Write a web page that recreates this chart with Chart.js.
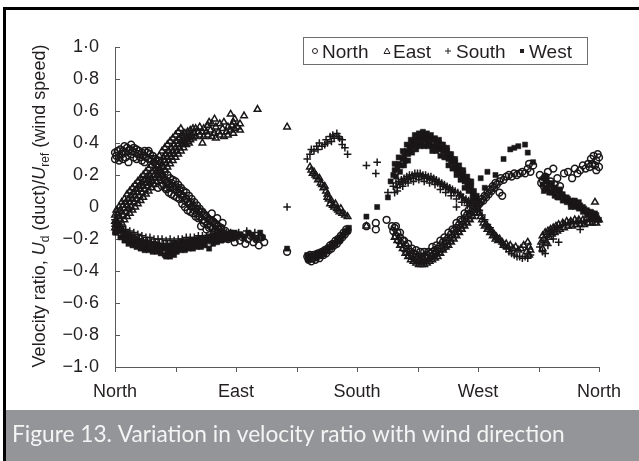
<!DOCTYPE html>
<html lang="en">
<head>
<meta charset="UTF-8">
<title>Figure 13</title>
<script src="https://cdn.jsdelivr.net/npm/chart.js"></script>
<style>
  html, body { margin: 0; padding: 0; background: #fff; }
  #wrap { width: 639px; height: 461px; }
</style>
</head>
<body>
<div id="wrap"><canvas id="myChart" width="639" height="461"></canvas></div>
<script>
// x = wind direction in degrees (0 = North ... 360 = North again), y = velocity ratio
const directions = ['North', 'East', 'South', 'West', 'North'];
const seriesNames = ['North', 'East', 'South', 'West'];

const northPts = [
  [0,0.30],[0,0.34],[1,0.32],[2,0.35],[3,0.31],[3,0.29],[4,0.36],[5,0.33],[6,0.35],[6,0.30],[7,0.38],[8,0.34],[8,0.31],[9,0.37],
  [10,0.35],[10,0.28],[11,0.36],[12,0.39],[12,0.33],[13,0.35],[14,0.37],[14,0.31],[15,0.34],[16,0.36],[16,0.30],[17,0.33],[18,0.35],
  [19,0.31],[20,0.34],[20,0.29],[21,0.32],[21,0.17],[22,0.35],[22,0.28],[23,0.31],[24,0.34],[25,0.30],[25,0.35],[26,0.33],[27,0.30],
  [28,0.32],[29,0.28],[30,0.30],[31,0.26],[32,0.25],[32,0.12],[33,0.23],[34,0.21],[35,0.20],[35,0.13],[36,0.18],[37,0.17],[38,0.15],
  [38,0.12],[39,0.16],[40,0.14],[41,0.12],[42,0.15],[43,0.13],[44,0.11],[45,0.13],[46,0.11],[47,0.09],[48,0.11],[49,0.08],[50,0.06],
  [51,0.07],[52,0.04],[53,0.05],[54,0.03],[55,0.02],[56,0.03],[57,0.00],[58,0.01],[59,-0.02],[60,-0.01],[61,-0.04],[62,-0.02],
  [63,-0.06],[64,-0.03],[64,-0.12],[65,-0.08],[66,-0.05],[67,-0.09],[68,-0.06],[68,-0.14],[69,-0.11],[70,-0.08],[71,-0.12],[72,-0.09],
  [72,-0.04],[73,-0.13],[74,-0.10],[75,-0.15],[76,-0.12],[76,-0.07],[77,-0.14],[78,-0.17],[79,-0.13],[80,-0.16],[80,-0.10],[81,-0.19],
  [82,-0.15],[83,-0.18],[84,-0.20],[86,-0.17],[88,-0.19],[89,-0.22],[91,-0.18],[93,-0.21],[95,-0.19],[97,-0.23],[99,-0.20],[101,-0.18],
  [103,-0.22],[105,-0.20],[107,-0.24],[109,-0.19],[111,-0.22],
  [33,0.29],[35,0.25],[37,0.22],[39,0.20],[41,0.18],[43,0.17],[45,0.16],[47,0.14],[49,0.12],[51,0.10],[53,0.09],[55,0.07],[57,0.05],
  [59,0.03],[61,0.01],[63,-0.01],[65,-0.03],[67,-0.05],[69,-0.07],[71,-0.08],[73,-0.09],[75,-0.11],[77,-0.12],[79,-0.14],
  [34,0.17],[36,0.14],[38,0.11],[40,0.09],[42,0.08],[44,0.07],[46,0.06],[48,0.05],[50,0.02],[52,0.00],[54,-0.02],[56,-0.03],[58,-0.04],
  [60,-0.06],[62,-0.07],[66,-0.10],[70,-0.13],[74,-0.16],[76,-0.17],[78,-0.19],[80,-0.20],
  [128,-0.28],
  [143,-0.31],[144,-0.33],[145,-0.30],[146,-0.34],[147,-0.32],[148,-0.30],[149,-0.33],[150,-0.31],[151,-0.29],[152,-0.32],[153,-0.30],
  [154,-0.28],[155,-0.30],[156,-0.27],[157,-0.29],[158,-0.26],[159,-0.27],[160,-0.24],[161,-0.26],[162,-0.23],[163,-0.24],[164,-0.21],
  [165,-0.23],[166,-0.20],[167,-0.21],[168,-0.18],[169,-0.19],[170,-0.16],[171,-0.17],[172,-0.14],[173,-0.15],
  [187,-0.12],[194,-0.10],[194,-0.14],[202,-0.08],
  [206,-0.12],[207,-0.15],[208,-0.13],[209,-0.18],[210,-0.16],[211,-0.21],[212,-0.19],[213,-0.23],[214,-0.21],[215,-0.26],[216,-0.24],
  [217,-0.28],[218,-0.26],[219,-0.30],[220,-0.28],[221,-0.31],[222,-0.29],[223,-0.32],[224,-0.30],[225,-0.33],[226,-0.31],[227,-0.33],
  [228,-0.31],[229,-0.33],[230,-0.31],[231,-0.32],[232,-0.30],[233,-0.32],[234,-0.29],[235,-0.31],[236,-0.28],[237,-0.30],[238,-0.27],
  [239,-0.29],[240,-0.26],[241,-0.28],[242,-0.24],[243,-0.26],[244,-0.22],[245,-0.25],[246,-0.21],[247,-0.23],[248,-0.19],[249,-0.21],
  [250,-0.17],[251,-0.19],[252,-0.15],[253,-0.17],[254,-0.13],[255,-0.15],[256,-0.11],[257,-0.13],[258,-0.09],[259,-0.11],[260,-0.07],
  [261,-0.09],[262,-0.05],[263,-0.07],[264,-0.04],[265,-0.05],[266,-0.02],[267,-0.03],[268,0.00],[269,-0.01],[270,0.01],[271,0.02],
  [209,-0.12],[212,-0.16],[215,-0.21],[218,-0.23],[221,-0.26],[224,-0.27],[227,-0.28],[230,-0.28],[233,-0.28],[236,-0.25],[239,-0.24],
  [242,-0.21],[245,-0.19],[248,-0.16],[251,-0.14],[254,-0.10],[257,-0.08],[260,-0.04],[263,-0.02],[266,0.01],
  [272,0.03],[273,0.05],[274,0.04],[275,0.07],[276,0.06],[277,0.09],[278,0.08],[279,0.11],[280,0.10],[281,0.13],[282,0.12],[283,0.15],
  [284,0.14],[286,0.16],[286,0.09],[287,0.18],[288,0.07],[289,0.17],[291,0.19],[293,0.20],[295,0.19],[297,0.21],[299,0.20],[301,0.21],
  [303,0.22],[305,0.21],[307,0.24],[308,0.27],[309,0.22],[311,0.26],
  [316,0.20],[317,0.15],[318,0.17],[319,0.13],[320,0.19],[321,0.15],[322,0.22],[323,0.12],[324,0.16],[326,0.24],[327,0.14],[329,0.18],
  [331,0.13],[334,0.21],[337,0.22],[340,0.18],[342,0.24],[344,0.21],[346,0.23],[348,0.26],[350,0.24],[352,0.27],[353,0.25],[354,0.30],
  [355,0.27],[356,0.32],[357,0.26],[358,0.29],[358,0.23],[359,0.33],[360,0.31],[360,0.25]
];

const eastPts = [
  [0,-0.09],[0,-0.13],[0,-0.05],[1,-0.08],[2,-0.10],[2,-0.04],[3,-0.06],[4,-0.08],[4,-0.02],[5,-0.03],[6,-0.05],[6,0.01],[7,-0.01],
  [8,-0.03],[8,0.03],[9,0.01],[10,-0.01],[10,0.05],[11,0.03],[12,0.00],[12,0.07],[13,0.05],[14,0.03],[14,0.09],[15,0.07],[16,0.05],
  [16,0.11],[17,0.09],[18,0.07],[18,0.13],[19,0.11],[20,0.09],[20,0.15],[21,0.13],[22,0.11],[22,0.17],[23,0.15],[24,0.13],[24,0.19],
  [25,0.17],[26,0.15],[26,0.20],[27,0.18],[28,0.16],[28,0.22],[29,0.20],[30,0.18],[30,0.24],[31,0.22],[32,0.20],[32,0.26],[33,0.24],
  [34,0.22],[34,0.28],[35,0.27],[36,0.25],[36,0.31],[37,0.29],[38,0.27],[38,0.33],[39,0.31],[40,0.29],[40,0.35],[41,0.33],[42,0.31],
  [42,0.37],[43,0.35],[44,0.33],[44,0.39],[45,0.37],[46,0.35],[46,0.41],[47,0.39],[48,0.37],[48,0.43],[49,0.41],[50,0.39],[50,0.45],
  [51,0.42],[52,0.40],[52,0.46],[53,0.43],[54,0.41],[54,0.47],[55,0.44],[56,0.42],[56,0.48],[57,0.45],[58,0.43],[58,0.49],[59,0.46],
  [60,0.44],[60,0.49],[62,0.47],[63,0.45],[63,0.50],[65,0.47],[65,0.40],[66,0.44],[66,0.49],[68,0.47],[69,0.45],[69,0.51],[70,0.53],
  [71,0.48],[72,0.44],[72,0.52],[74,0.46],[74,0.55],[75,0.43],[75,0.50],[77,0.47],[78,0.45],[78,0.52],[80,0.49],[81,0.44],[81,0.53],
  [83,0.47],[84,0.50],[84,0.45],[86,0.48],[86,0.58],[87,0.51],[88,0.46],[88,0.53],[89,0.49],[89,0.55],[91,0.50],[93,0.52],[93,0.48],
  [96,0.57],[106,0.61],
  [1,-0.02],[3,0.00],[5,0.03],[7,0.05],[9,0.08],[11,0.10],[13,0.12],[15,0.14],[17,0.16],[19,0.18],[21,0.20],[23,0.22],[25,0.24],
  [27,0.26],[29,0.28],[31,0.30],[33,0.32],[35,0.35],[37,0.37],[39,0.39],[41,0.41],[43,0.43],[45,0.45],[47,0.47],[49,0.49],
  [1,-0.15],[3,-0.13],[5,-0.10],[7,-0.08],[9,-0.06],[11,-0.04],[13,-0.02],[15,0.00],[17,0.02],[19,0.04],[21,0.06],[23,0.08],[25,0.10],
  [27,0.12],[29,0.14],[31,0.16],[33,0.18],[35,0.20],[37,0.23],[39,0.25],[41,0.27],[43,0.29],[45,0.31],[47,0.33],[49,0.35],[51,0.37],
  [53,0.39],[55,0.40],
  [128,0.50],
  [145,0.25],[146,0.23],[147,0.21],[148,0.22],[149,0.20],[150,0.19],[151,0.17],[152,0.18],[153,0.15],[154,0.14],[155,0.12],[156,0.13],
  [157,0.10],[158,0.08],[158,0.06],[159,0.05],[160,0.02],[161,0.04],[162,0.01],[163,0.00],[164,0.02],[165,-0.01],[166,-0.02],
  [167,-0.03],[168,-0.01],[169,-0.04],[171,-0.05],[173,-0.06],
  [187,-0.12],
  [208,-0.19],[210,-0.21],[212,-0.24],[214,-0.26],[216,-0.29],[218,-0.31],[220,-0.33],[222,-0.34],[224,-0.35],[226,-0.36],[228,-0.36],
  [230,-0.36],[232,-0.35],[234,-0.34],[236,-0.33],[238,-0.32],[240,-0.31],[242,-0.29],[244,-0.27],[246,-0.25],[248,-0.24],[250,-0.22],
  [252,-0.20],[254,-0.18],[256,-0.16],[258,-0.14],[260,-0.12],[262,-0.10],[264,-0.08],[266,-0.06],[268,-0.04],
  [270,-0.01],[271,-0.04],[272,-0.06],[273,-0.08],[274,-0.10],[275,-0.12],[276,-0.11],[277,-0.14],[278,-0.13],[279,-0.16],[280,-0.15],
  [281,-0.18],[282,-0.17],[283,-0.20],[284,-0.19],[285,-0.21],[286,-0.20],[288,-0.22],[289,-0.24],[291,-0.23],[292,-0.25],[294,-0.24],
  [296,-0.26],[298,-0.25],[300,-0.27],[302,-0.26],[304,-0.24],[306,-0.28],[307,-0.22],[308,-0.25],[308,-0.30],[309,-0.27],
  [317,-0.22],[318,-0.18],[318,-0.26],[319,-0.20],[320,-0.16],[321,-0.22],[322,-0.15],[323,-0.19],[324,-0.14],[325,-0.17],[326,-0.13],
  [327,-0.16],[328,-0.12],[329,-0.15],[330,-0.11],[331,-0.14],[333,-0.10],[334,-0.13],[336,-0.09],[337,-0.12],[339,-0.09],[340,-0.12],
  [342,-0.08],[343,-0.11],[345,-0.08],[346,-0.11],[348,-0.08],[349,-0.11],[351,-0.07],[352,-0.10],[354,-0.07],[355,-0.10],[357,-0.07],
  [357,0.03],[358,-0.10],[360,-0.08]
];

const southPts = [
  [0,-0.08],[0,-0.12],[2,-0.10],[3,-0.14],[5,-0.12],[6,-0.15],[8,-0.14],[9,-0.17],[11,-0.15],[12,-0.18],[14,-0.16],[15,-0.19],
  [17,-0.17],[18,-0.20],[20,-0.18],[21,-0.21],[23,-0.19],[24,-0.21],[26,-0.19],[27,-0.22],[29,-0.20],[30,-0.22],[32,-0.20],[33,-0.23],
  [35,-0.20],[36,-0.23],[38,-0.21],[39,-0.23],[41,-0.20],[42,-0.23],[44,-0.21],[45,-0.23],[47,-0.20],[48,-0.23],[50,-0.20],[51,-0.22],
  [53,-0.19],[54,-0.22],[56,-0.19],[57,-0.22],[59,-0.19],[60,-0.21],[62,-0.18],[63,-0.21],[65,-0.18],[66,-0.20],[68,-0.18],[69,-0.20],
  [71,-0.17],[72,-0.20],[74,-0.17],[75,-0.19],[77,-0.16],[78,-0.19],[80,-0.17],[81,-0.19],[83,-0.16],[84,-0.18],[86,-0.16],[87,-0.19],
  [89,-0.17],[92,-0.16],[95,-0.18],[98,-0.15],[101,-0.17],[104,-0.16],[107,-0.18],
  [1,-0.10],[4,-0.13],[7,-0.16],[10,-0.17],[13,-0.19],[16,-0.20],[19,-0.22],[22,-0.23],[25,-0.24],[28,-0.245],[31,-0.25],[34,-0.25],
  [37,-0.25],[40,-0.25],[43,-0.25],[46,-0.245],[49,-0.24],[52,-0.24],[55,-0.235],[58,-0.23],[61,-0.225],[64,-0.22],[67,-0.215],
  [70,-0.21],[73,-0.21],[76,-0.20],[79,-0.20],[82,-0.19],[85,-0.19],[88,-0.19],
  [128,0.00],
  [143,0.30],[145,0.33],[146,0.36],[148,0.35],[150,0.38],[151,0.36],[152,0.40],[154,0.38],[156,0.39],[157,0.42],[158,0.40],[160,0.44],
  [161,0.41],[162,0.45],[163,0.43],[165,0.46],[166,0.44],[167,0.43],[169,0.42],[169,0.39],[171,0.37],[173,0.33],
  [187,0.26],[194,0.21],[195,0.28],[203,0.09],[208,0.09],
  [207,0.13],[209,0.15],[210,0.12],[211,0.16],[212,0.14],[213,0.17],[214,0.15],[215,0.18],[216,0.16],[217,0.19],[218,0.17],[219,0.20],
  [220,0.18],[221,0.20],[222,0.18],[223,0.21],[224,0.19],[225,0.21],[226,0.19],[227,0.21],[228,0.19],[229,0.20],[230,0.18],[231,0.20],
  [232,0.18],[233,0.19],[234,0.17],[235,0.19],[236,0.17],[237,0.18],[238,0.16],[239,0.17],[240,0.15],[241,0.16],[242,0.14],[243,0.15],
  [244,0.13],[245,0.14],[246,0.12],[247,0.13],[248,0.11],[249,0.12],[250,0.10],[251,0.11],[252,0.09],[253,0.10],[254,0.00],[255,0.09],
  [256,0.07],[257,0.08],[258,0.06],[259,0.06],[260,0.04],[261,0.05],[262,0.03],[263,0.04],[264,0.02],[265,0.03],[267,0.01],[269,0.00],
  [210,0.10],[214,0.13],[218,0.15],[222,0.16],[226,0.17],[230,0.16],[234,0.15],[238,0.14],[242,0.11],[246,0.09],[250,0.07],[254,0.05],
  [258,0.03],[262,0.01],
  [271,-0.02],[273,-0.05],[275,-0.08],[277,-0.11],[279,-0.13],[281,-0.16],[283,-0.18],[285,-0.20],[287,-0.22],[289,-0.24],[291,-0.26],
  [293,-0.28],[295,-0.29],[297,-0.30],[299,-0.31],[301,-0.31],[303,-0.32],[305,-0.31],[307,-0.32],[309,-0.30],
  [316,-0.25],[318,-0.28],[319,-0.22],[320,-0.29],[321,-0.19],[322,-0.24],[323,-0.17],[325,-0.15],[326,-0.20],[327,-0.14],[329,-0.13],
  [330,-0.22],[331,-0.12],[333,-0.11],[335,-0.11],[337,-0.10],[339,-0.10],[341,-0.10],[343,-0.09],[345,-0.09],[346,-0.14],[347,-0.10],
  [349,-0.09],[351,-0.09],[353,-0.08],[355,-0.09],[357,-0.08],[359,-0.09]
];

const westPts = [
  [0,-0.12],[1,-0.16],[3,-0.15],[4,-0.19],[6,-0.18],[7,-0.21],[9,-0.20],[10,-0.23],[12,-0.21],[13,-0.24],[15,-0.22],[16,-0.25],
  [18,-0.23],[19,-0.26],[21,-0.24],[22,-0.27],[24,-0.25],[25,-0.27],[27,-0.25],[28,-0.28],[30,-0.26],[31,-0.28],[33,-0.26],[34,-0.29],
  [36,-0.26],[37,-0.30],[39,-0.27],[40,-0.29],[42,-0.26],[43,-0.28],[45,-0.25],[46,-0.28],[48,-0.25],[49,-0.27],[51,-0.24],[52,-0.27],
  [54,-0.24],[55,-0.26],[57,-0.23],[58,-0.26],[60,-0.23],[61,-0.25],[63,-0.22],[64,-0.25],[66,-0.22],[67,-0.24],[69,-0.21],[70,-0.26],
  [72,-0.21],[73,-0.23],[75,-0.20],[76,-0.22],[78,-0.19],[79,-0.21],[81,-0.18],[82,-0.20],[84,-0.18],[85,-0.20],[87,-0.17],[88,-0.19],
  [90,-0.18],[93,-0.17],[96,-0.19],[99,-0.16],[102,-0.18],[105,-0.20],[108,-0.16],[110,-0.19],
  [0,-0.16],[2,-0.13],[5,-0.14],[8,-0.17],[11,-0.18],[14,-0.20],[17,-0.21],[20,-0.22],[23,-0.22],[26,-0.23],[29,-0.23],[32,-0.24],
  [35,-0.24],[38,-0.25],[41,-0.24],[44,-0.23],[47,-0.23],[50,-0.22],[53,-0.22],[56,-0.21],[59,-0.21],[62,-0.20],[65,-0.20],[68,-0.19],
  [71,-0.19],[74,-0.18],[77,-0.18],[80,-0.17],[83,-0.17],[86,-0.16],[89,-0.16],[38,-0.31],[41,-0.31],[44,-0.30],
  [128,-0.26],
  [143,-0.30],[144,-0.33],[146,-0.31],[147,-0.30],[149,-0.32],[150,-0.29],[152,-0.30],[153,-0.28],[155,-0.29],[156,-0.27],[158,-0.27],
  [159,-0.25],[161,-0.25],[162,-0.23],[164,-0.23],[165,-0.21],[167,-0.21],[168,-0.19],[170,-0.18],[171,-0.16],[173,-0.15],[174,-0.13],
  [187,-0.06],[195,0.00],[203,0.06],
  [205,0.16],[207,0.20],[208,0.23],[210,0.24],[211,0.27],[213,0.26],[214,0.30],[215,0.32],[216,0.29],[217,0.35],[218,0.33],[219,0.38],
  [220,0.36],[221,0.40],[222,0.38],[223,0.42],[224,0.39],[225,0.43],[226,0.41],[227,0.44],[228,0.41],[229,0.44],[230,0.42],[231,0.45],
  [232,0.41],[233,0.43],[234,0.40],[235,0.42],[236,0.38],[237,0.42],[238,0.38],[239,0.41],[240,0.37],[241,0.40],[242,0.36],[243,0.39],
  [244,0.35],[245,0.37],[246,0.32],[247,0.35],[248,0.30],[249,0.33],[250,0.28],[251,0.30],[252,0.25],[253,0.28],[254,0.23],[255,0.25],
  [256,0.21],[257,0.23],[258,0.18],[259,0.21],[260,0.16],[261,0.18],[262,0.13],[263,0.16],[264,0.11],[265,0.13],[266,0.08],[267,0.10],
  [268,0.05],[269,0.07],[270,0.02],[271,0.04],
  [208,0.27],[211,0.31],[214,0.35],[217,0.39],[220,0.42],[223,0.45],[226,0.46],[229,0.47],[232,0.46],[235,0.45],[238,0.43],[241,0.42],
  [244,0.39],[247,0.37],[250,0.33],[253,0.30],[256,0.26],[259,0.23],[262,0.19],[265,0.16],
  [209,0.19],[212,0.22],[215,0.26],[218,0.29],[221,0.34],[224,0.36],[227,0.38],[230,0.38],[233,0.38],[236,0.35],[239,0.35],[242,0.32],
  [245,0.31],[248,0.26],[251,0.24],[254,0.20],[257,0.17],[260,0.12],[263,0.10],[266,0.05],
  [272,0.18],[275,0.12],[277,0.22],[283,0.20],[289,0.30],[294,0.36],[297,0.37],[300,0.38],[305,0.39],[307,0.34],[311,0.28],
  [318,0.14],[319,0.18],[320,0.12],[321,0.16],[322,0.11],[323,0.14],[325,0.09],[326,0.12],[327,0.07],[328,0.10],[330,0.06],[331,0.08],
  [333,0.04],[334,0.06],[336,0.03],[337,0.05],[339,0.02],[340,0.04],[342,0.00],[343,0.02],[345,-0.01],[346,0.01],[348,-0.03],
  [349,-0.01],[351,-0.05],[352,-0.03],[354,-0.06],[355,-0.04],[357,-0.07],[358,-0.05],[360,-0.08],
  [319,0.10],[321,0.19],[323,0.09],[325,0.15],[327,0.12],[329,0.06],[331,0.11],[333,0.08],[336,0.06],[339,0.00],[342,0.04],[345,0.03],
  [348,0.00],[351,-0.02],[354,-0.03],[357,-0.04]
];

const ink = '#1a1718';
const axisGrey = '#58595b';
const tickFont = '"Liberation Sans", Arial, sans-serif';

function fmtTick(v) {
    const r = Math.round(v * 10) / 10;
    if (r === 0) return '0';
    const s = Math.abs(r).toFixed(1).replace('.', '\u00b7');
    return r < 0 ? '\u2212' + s : s;
}

function toXY(list) {
    return list.map(p => ({ x: p[0], y: p[1] }));
}

// frame, caption band, axes, y title and the boxed legend
const figurePlugin = {
    id: 'figure',
    beforeDraw(chart) {
        const ctx = chart.ctx;
        const W = chart.width, H = chart.height;
        ctx.save();
        ctx.fillStyle = '#fff';
        ctx.fillRect(0, 0, W, H);
        ctx.fillStyle = '#000';
        ctx.fillRect(3, 7, 3, H - 7);
        ctx.fillRect(3, 7, W - 3, 3);
        ctx.fillStyle = '#939598';
        ctx.fillRect(6, 410, W - 6, H - 410);

        // caption, sized to the reference width
        let size = 21;
        ctx.font = size + 'px Lato, "Open Sans", sans-serif';
        const caption = 'Figure 13. Variation in velocity ratio with wind direction';
        const w = ctx.measureText(caption).width;
        size = size * 553 / w;
        ctx.font = size.toFixed(2) + 'px Lato, "Open Sans", sans-serif';
        ctx.fillStyle = '#f4f4f4';
        ctx.textBaseline = 'alphabetic';
        ctx.fillText(caption, 12, 442);
        ctx.restore();
    },
    beforeDatasetsDraw(chart) {
        const ctx = chart.ctx;
        const a = chart.chartArea;
        const xs = chart.scales.x, ys = chart.scales.y;
        ctx.save();
        ctx.strokeStyle = axisGrey;
        ctx.lineWidth = 1;
        ctx.beginPath();
        ctx.moveTo(a.left + 0.5, a.top);
        ctx.lineTo(a.left + 0.5, a.bottom + 0.5);
        ctx.lineTo(a.right, a.bottom + 0.5);
        ys.ticks.forEach(t => {
            const y = Math.round(ys.getPixelForValue(t.value)) + 0.5;
            ctx.moveTo(a.left, y);
            ctx.lineTo(a.left + 5, y);
        });
        xs.ticks.forEach(t => {
            const x = Math.round(xs.getPixelForValue(t.value)) + 0.5;
            ctx.moveTo(x, a.bottom);
            ctx.lineTo(x, a.bottom + 5);
        });
        ctx.stroke();
        ctx.restore();
    },
    afterDraw(chart) {
        const ctx = chart.ctx;
        ctx.save();

        // y axis title with italic U and subscripts
        const parts = [
            ['Velocity ratio, ', 'n'], ['U', 'i'], ['d', 's'], [' (duct)/', 'n'],
            ['U', 'i'], ['ref', 's'], [' (wind speed)', 'n']
        ];
        const fonts = {
            n: '18px ' + tickFont,
            i: 'italic 18px ' + tickFont,
            s: '12px ' + tickFont
        };
        let total = 0;
        parts.forEach(p => { ctx.font = fonts[p[1]]; total += ctx.measureText(p[0]).width; });
        ctx.translate(45, 206);
        ctx.rotate(-Math.PI / 2);
        ctx.fillStyle = '#231f20';
        ctx.textBaseline = 'alphabetic';
        let x = -total / 2;
        parts.forEach(p => {
            ctx.font = fonts[p[1]];
            ctx.fillText(p[0], x, p[1] === 's' ? 4 : 0);
            x += ctx.measureText(p[0]).width;
        });
        ctx.restore();

        // legend
        ctx.save();
        ctx.strokeStyle = '#6d6e71';
        ctx.lineWidth = 1;
        ctx.strokeRect(303.5, 37.5, 284, 27);
        ctx.font = '19px ' + tickFont;
        ctx.fillStyle = '#231f20';
        ctx.strokeStyle = '#231f20';
        ctx.textBaseline = 'alphabetic';
        const cy = 51;
        const marks = [315, 387, 448, 522];
        const texts = [322, 393, 456, 529];
        ctx.lineWidth = 1;
        ctx.beginPath(); ctx.arc(marks[0], cy, 2.5, 0, Math.PI * 2); ctx.stroke();
        ctx.beginPath();
        ctx.moveTo(marks[1], cy - 3); ctx.lineTo(marks[1] + 3, cy + 2.5); ctx.lineTo(marks[1] - 3, cy + 2.5);
        ctx.closePath(); ctx.stroke();
        ctx.beginPath();
        ctx.moveTo(marks[2] - 3, cy); ctx.lineTo(marks[2] + 3, cy);
        ctx.moveTo(marks[2], cy - 3); ctx.lineTo(marks[2], cy + 3);
        ctx.stroke();
        ctx.fillRect(marks[3] - 2, cy - 2, 4, 4);
        seriesNames.forEach((n, i) => ctx.fillText(n, texts[i], 58));
        ctx.restore();
    }
};

const common = {
    showLine: false,
    clip: false,
    borderColor: ink,
    pointHoverRadius: 0
};

const config = {
    type: 'scatter',
    data: {
        datasets: [
            Object.assign({}, common, {
                label: seriesNames[0], data: toXY(northPts), order: 0,
                pointStyle: 'circle', pointRadius: 3.4, pointBorderWidth: 1.5,
                pointBackgroundColor: 'rgba(255,255,255,0)', pointBorderColor: ink
            }),
            Object.assign({}, common, {
                label: seriesNames[1], data: toXY(eastPts), order: 1,
                pointStyle: 'triangle', pointRadius: 3.8, pointBorderWidth: 1.5,
                pointBackgroundColor: 'rgba(255,255,255,0)', pointBorderColor: ink
            }),
            Object.assign({}, common, {
                label: seriesNames[2], data: toXY(southPts), order: 2,
                pointStyle: 'cross', pointRadius: 3.8, pointBorderWidth: 1.5,
                pointBackgroundColor: ink, pointBorderColor: ink
            }),
            Object.assign({}, common, {
                label: seriesNames[3], data: toXY(westPts), order: 3,
                pointStyle: 'rect', pointRadius: 3.6, pointBorderWidth: 0.5,
                pointBackgroundColor: ink, pointBorderColor: ink
            })
        ]
    },
    options: {
        responsive: false,
        animation: false,
        events: [],
        layout: { padding: { left: 0, top: 47, right: 40, bottom: 0 } },
        plugins: {
            legend: { display: false },
            tooltip: { enabled: false }
        },
        scales: {
            x: {
                type: 'linear',
                min: 0,
                max: 360,
                grid: { display: false },
                border: { display: false },
                ticks: {
                    stepSize: 45,
                    autoSkip: false,
                    maxRotation: 0,
                    padding: 6,
                    color: '#231f20',
                    font: { family: tickFont, size: 18 },
                    callback: v => (v % 90 === 0 ? directions[v / 90] : '')
                },
                afterFit: s => { s.height = 94; }
            },
            y: {
                min: -1,
                max: 1,
                grid: { display: false },
                border: { display: false },
                ticks: {
                    stepSize: 0.2,
                    padding: 8,
                    color: '#231f20',
                    font: { family: tickFont, size: 18 },
                    callback: v => fmtTick(v)
                },
                afterFit: s => { s.width = 115; }
            }
        }
    },
    plugins: [figurePlugin]
};

const ctx = document.getElementById('myChart').getContext('2d');
const myChart = new Chart(ctx, config);
</script>
</body>
</html>
